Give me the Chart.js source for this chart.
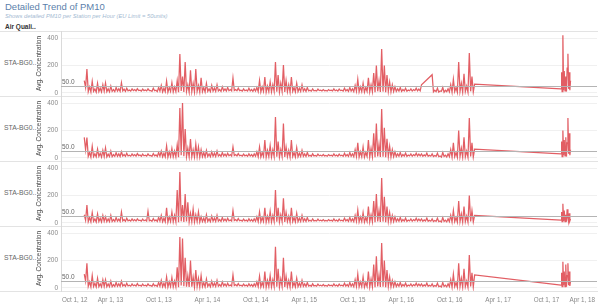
<!DOCTYPE html>
<html>
<head>
<meta charset="utf-8">
<script src="https://cdn.jsdelivr.net/npm/chart.js@4.4.1/dist/chart.umd.min.js"></script>
<style>
  body { margin: 0; width: 600px; height: 308px; background: #fff; font-family: "Liberation Sans", Arial, sans-serif; position: relative; overflow: hidden; }
  .title { position: absolute; left: 5px; top: 1px; font-size: 9.5px; color: #5b7fab; white-space: nowrap; }
  .subtitle { position: absolute; left: 5px; top: 13px; font-size: 5.8px; font-style: italic; color: #a4bad2; white-space: nowrap; }
  .header { position: absolute; left: 5px; top: 23px; font-size: 6.5px; font-weight: bold; color: #333; }
  .rowlabel { position: absolute; left: 4px; font-size: 6.8px; color: #666; }
  .sep { position: absolute; left: 0; width: 598px; height: 1px; background: #e3e3e3; }
  .panel { position: absolute; left: 33px; line-height: 0; }
</style>
</head>
<body>
<div class="title">Detailed Trend of PM10</div>
<div class="subtitle">Shows detailed PM10 per Station per Hour (EU Limit = 50units)</div>
<div class="header">Air Quali..</div>
<div id="wrap"></div>
<script>
// time axis in decimal years, one 10-day bucket each, starting late Dec 2012
// every bucket gives its hourly high and its hourly low
const gridStart = 2012.98;
const gridStep = 10 / 365;
const tailYears = [2017.899, 2017.905, 2017.91, 2017.918, 2017.925, 2017.932, 2017.94, 2017.948, 2017.955, 2017.962, 2017.97, 2017.977, 2017.984, 2017.99, 2017.997];

const tickValues = [2012.75, 2013.25, 2013.75, 2014.25, 2014.75, 2015.25, 2015.75, 2016.25, 2016.75, 2017.25, 2017.75, 2018.25];
const tickLabels = ["Oct 1, 12", "Apr 1, 13", "Oct 1, 13", "Apr 1, 14", "Oct 1, 14", "Apr 1, 15", "Oct 1, 15", "Apr 1, 16", "Oct 1, 16", "Apr 1, 17", "Oct 1, 17", "Apr 1, 18"];

const stations = ["STA-BG0..", "STA-BG0..", "STA-BG0..", "STA-BG0.."];
const euLimit = 50;

// bucket highs
const hi_1 = [90,175,45,85,30,70,35,60,73,30,50,25,40,30,75,28,35,22,30,25,32,20,28,22,30,18,35,20,40,55,
  35,87,40,75,45,90,284,120,225,60,165,70,175,55,110,40,70,30,55,35,60,25,45,30,40,25,109,25,35,20,
  30,22,35,25,30,40,90,45,116,50,80,60,225,130,70,204,90,60,116,40,70,35,60,30,40,20,30,18,28,20,
  25,18,25,20,30,22,28,20,35,25,40,30,55,100,45,70,40,110,60,145,200,90,320,200,130,80,60,45,30,40,
  25,35,22,30,25,35,28,60,null,null,null,133,20,35,15,40,20,30,60,100,40,225,70,140,50,290,120,65];
const hi_2 = [150,148,40,85,30,65,35,55,73,28,50,25,38,30,45,25,35,20,30,25,32,22,28,20,30,18,32,22,40,50,
  35,87,45,70,50,95,364,400,211,70,138,60,100,80,60,40,55,30,45,35,50,25,40,28,35,25,80,25,32,20,
  28,22,30,25,30,45,80,40,130,55,90,60,298,120,60,250,80,55,130,40,75,35,55,30,40,20,30,18,28,20,
  25,18,25,20,30,22,28,20,35,25,40,30,60,110,45,80,40,130,70,180,250,100,356,220,140,85,60,45,30,40,
  25,35,22,30,25,35,28,30,22,35,20,30,18,35,15,40,20,30,60,110,40,200,70,150,50,290,110,65];
const hi_3 = [60,130,40,75,30,65,35,55,45,30,55,25,40,28,80,25,35,22,30,25,30,20,28,22,85,20,32,22,40,55,
  35,110,45,80,55,240,370,130,210,150,70,100,60,80,45,35,60,30,50,35,55,25,40,28,35,22,90,25,32,20,
  28,22,30,25,30,45,80,40,110,50,85,55,240,110,60,180,75,50,110,40,70,35,55,30,40,20,30,18,28,20,
  25,18,25,20,30,22,28,20,35,25,40,30,55,95,45,75,40,120,60,160,210,90,327,190,120,75,55,45,30,40,
  25,35,22,30,25,35,28,30,22,35,20,30,18,35,15,40,20,30,55,90,40,160,65,120,50,200,90,55];
const hi_4 = [100,180,45,90,35,70,30,60,60,30,50,25,40,30,50,25,35,20,30,22,32,20,28,20,30,18,30,20,40,55,
  35,80,45,75,50,150,370,360,220,90,200,80,130,70,90,40,65,30,50,35,55,25,45,30,35,22,95,25,32,20,
  28,22,30,25,30,45,85,40,120,55,90,60,300,140,65,220,85,55,120,40,70,35,55,30,40,20,30,18,28,20,
  25,18,25,20,30,22,28,20,35,25,40,30,60,100,45,80,40,120,65,170,230,95,327,200,130,80,55,45,30,40,
  25,35,22,30,25,35,28,30,22,35,20,30,18,35,15,40,20,30,60,100,40,180,70,140,50,240,110,95];

// bucket lows
const lo_1 = [40,10,8,12,6,10,8,12,10,8,12,10,14,12,15,12,16,14,17,15,18,14,17,15,18,12,16,10,14,8,
  10,6,12,8,10,5,15,8,12,6,10,8,12,6,10,8,12,10,14,12,15,12,16,14,17,15,18,16,17,14,
  16,14,15,12,14,10,8,12,6,10,8,12,10,6,12,8,10,6,12,8,10,12,14,12,15,13,16,14,17,15,
  16,14,17,15,16,14,17,14,15,12,14,10,12,8,10,6,12,8,10,6,12,8,10,6,12,8,10,12,14,12,
  15,13,16,14,17,15,16,null,null,null,null,8,10,6,12,5,10,8,6,10,5,12,6,10,5,12,8,null];
const lo_2 = [60,12,6,10,8,12,6,10,8,10,10,12,13,11,14,12,15,13,16,14,17,13,16,14,17,12,15,11,13,9,
  8,7,10,9,8,6,20,12,10,8,9,7,10,6,9,8,11,9,13,11,14,12,15,13,16,14,17,15,16,13,
  15,13,14,11,13,9,7,11,6,9,7,11,9,6,10,7,9,6,11,7,9,11,13,11,14,12,15,13,16,14,
  15,13,16,14,15,13,16,13,14,11,13,9,11,7,9,6,11,7,9,6,11,7,9,5,11,7,9,11,13,11,
  14,12,15,13,16,14,15,13,14,12,13,11,12,10,6,11,7,9,6,10,5,11,6,9,5,11,7,null];
const lo_3 = [20,10,8,12,7,11,8,12,9,10,11,12,14,12,15,12,16,14,16,14,17,13,16,14,16,12,15,11,14,9,
  9,7,11,8,9,6,12,8,11,7,10,8,11,7,10,8,12,10,13,11,14,12,15,13,16,14,17,15,16,14,
  15,13,14,12,13,10,8,11,7,10,8,11,9,7,11,8,10,6,11,8,10,11,13,12,14,13,15,14,16,15,
  15,14,16,14,15,13,16,14,15,12,13,10,12,8,10,7,11,8,10,6,11,8,10,6,11,8,10,12,13,12,
  14,12,15,13,16,14,15,13,14,12,13,11,12,10,7,11,8,10,7,10,6,11,7,10,6,11,8,null];
const lo_4 = [50,12,8,11,7,10,8,11,9,10,10,12,13,12,14,12,15,13,16,14,16,13,16,14,17,12,15,11,13,9,
  8,7,10,8,9,6,18,12,10,8,9,7,11,7,10,8,12,9,13,11,14,12,15,13,16,14,17,15,16,13,
  15,13,14,11,13,10,8,11,6,10,8,11,9,6,11,7,9,6,11,8,10,11,13,12,14,12,15,13,16,14,
  15,13,16,14,15,13,16,14,14,11,13,9,11,8,10,6,11,7,9,6,11,7,9,6,11,8,10,11,13,12,
  14,12,15,13,16,14,15,13,14,12,13,11,12,10,7,11,8,10,6,10,5,11,6,10,5,11,8,null];

// readings after the long gap (late 2017)
const tail_1 = [30,150,10,420,20,160,15,120,10,180,285,30,150,20,90];
const tail_2 = [30,120,10,200,20,130,15,150,10,110,290,30,180,20,60];
const tail_3 = [20,80,10,140,15,90,10,60,10,100,40,10,70,15,30];
const tail_4 = [20,110,10,190,20,120,10,170,10,90,180,20,120,15,50];

const series = [[hi_1, lo_1, tail_1], [hi_2, lo_2, tail_2], [hi_3, lo_3, tail_3], [hi_4, lo_4, tail_4]];

const panelTops = [31, 96, 161, 226];
const panelH = 65;
const fontFam = '"Liberation Sans", Arial, sans-serif';

const refLine = {
  id: "refLine",
  afterDatasetsDraw(chart) {
    const { ctx, chartArea, scales } = chart;
    const y = Math.round(scales.y.getPixelForValue(euLimit)) + 0.5;
    ctx.save();
    ctx.strokeStyle = "#b4b4b4";
    ctx.lineWidth = 1;
    ctx.beginPath();
    ctx.moveTo(chartArea.left, y);
    ctx.lineTo(chartArea.right, y);
    ctx.stroke();
    ctx.fillStyle = "#666";
    ctx.font = "6.5px " + fontFam;
    ctx.textBaseline = "bottom";
    ctx.fillText(euLimit.toFixed(1), chartArea.left + 1, y - 1);
    ctx.restore();
  },
};

const wrap = document.getElementById("wrap");

series.forEach(([hi, lo, tail], p) => {
  const last = p === series.length - 1;
  const top = panelTops[p];

  const lbl = document.createElement("div");
  lbl.className = "rowlabel";
  lbl.style.top = top + panelH / 2 - 5 + "px";
  lbl.textContent = stations[p];
  wrap.appendChild(lbl);

  const sep = document.createElement("div");
  sep.className = "sep";
  sep.style.top = top + panelH + "px";
  wrap.appendChild(sep);
  if (p === 0) {
    const s0 = document.createElement("div");
    s0.className = "sep";
    s0.style.top = top + "px";
    wrap.appendChild(s0);
  }

  const box = document.createElement("div");
  box.className = "panel";
  box.style.top = top + "px";
  const canvas = document.createElement("canvas");
  canvas.width = 567;
  canvas.height = last ? 308 - top : panelH;
  box.appendChild(canvas);
  wrap.appendChild(box);

  const points = [];
  hi.forEach((v, i) => {
    const t = gridStart + i * gridStep;
    if (v !== null) points.push({ x: t, y: v });
    if (lo[i] !== null) points.push({ x: t + gridStep / 2, y: lo[i] });
  });
  tail.forEach((v, i) => points.push({ x: tailYears[i], y: v }));

  new Chart(canvas.getContext("2d"), {
    type: "line",
    data: {
      datasets: [{
        data: points,
        borderColor: "rgba(222,72,78,0.88)",
        borderWidth: 1.25,
        pointRadius: 0,
        tension: 0,
      }],
    },
    options: {
      responsive: false,
      animation: false,
      layout: { padding: { left: 0, right: 3, top: 0, bottom: 0 } },
      plugins: { legend: { display: false }, tooltip: { enabled: false } },
      scales: {
        x: {
          type: "linear",
          min: 2012.74,
          max: 2018.27,
          display: last,
          afterBuildTicks: (s) => { s.ticks = tickValues.map((v) => ({ value: v })); },
          afterFit: (s) => {
            s.paddingLeft = 0;
            s.paddingRight = 0;
            if (last) s.height = 308 - top - panelH;
          },
          grid: { display: false, drawTicks: false },
          border: { display: false },
          ticks: {
            autoSkip: false,
            maxRotation: 0,
            align: "inner",
            padding: 5,
            color: "#888",
            font: { size: 6.3, family: fontFam },
            callback: (v, i) => tickLabels[i],
          },
        },
        y: {
          min: -22,
          max: 451,
          afterBuildTicks: (s) => { s.ticks = [0, 200, 400].map((v) => ({ value: v })); },
          afterFit: (s) => {
            s.width = 28;
            s.paddingTop = 0;
            s.paddingBottom = 0;
          },
          grid: { color: "#f0f0f0", drawTicks: false },
          border: { display: true, color: "#dadada" },
          ticks: {
            padding: 3,
            color: "#888",
            font: { size: 6.5, family: fontFam },
          },
          title: {
            display: true,
            text: "Avg. Concentration",
            color: "#444",
            padding: { top: 2, bottom: 0 },
            font: { size: 6.5, family: fontFam },
          },
        },
      },
    },
    plugins: [refLine],
  });
});
</script>
</body>
</html>
